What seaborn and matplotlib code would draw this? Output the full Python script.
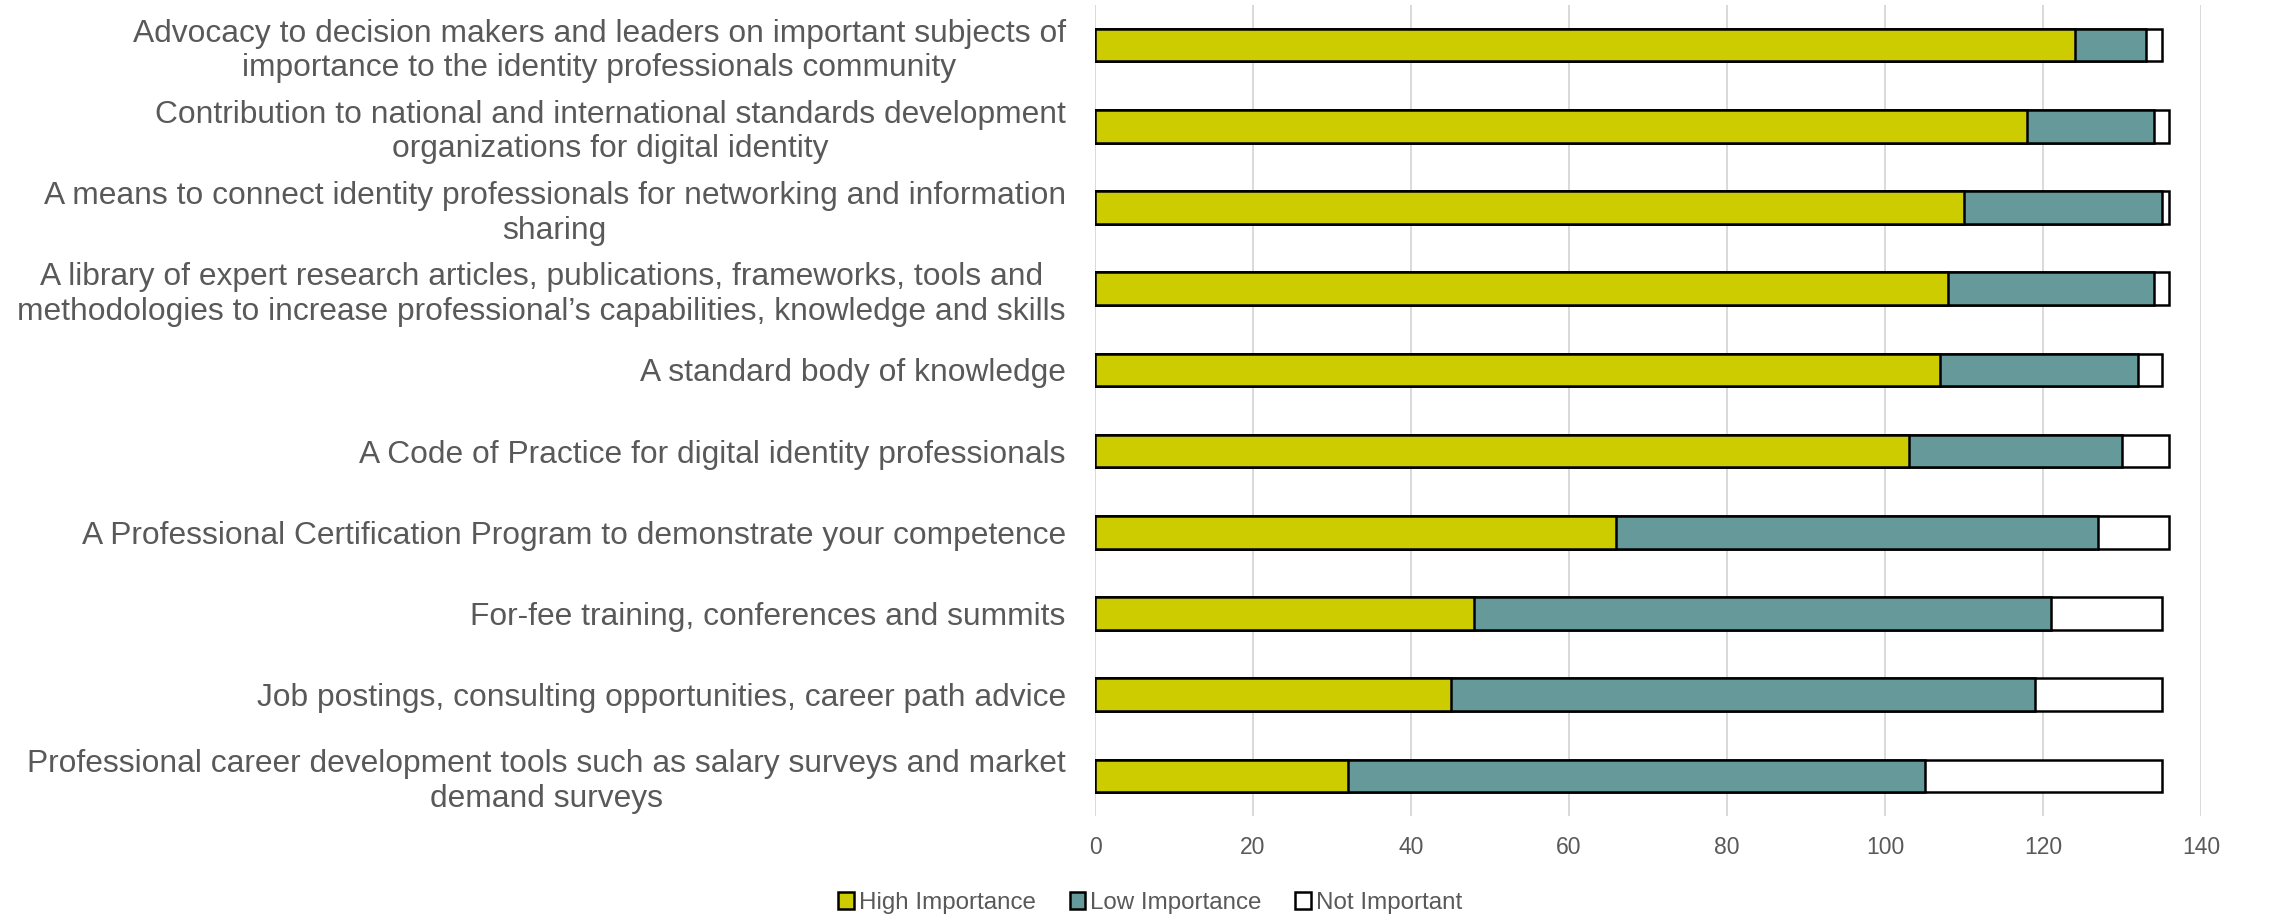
import matplotlib
matplotlib.use("Agg")
import matplotlib.pyplot as plt
from matplotlib.patches import Patch
import numpy as np
import pandas as pd
import seaborn as sns

categories = [
    "Advocacy to decision makers and leaders on important subjects of\nimportance to the identity professionals community",
    "Contribution to national and international standards development\norganizations for digital identity",
    "A means to connect identity professionals for networking and information\nsharing",
    "A library of expert research articles, publications, frameworks, tools and\nmethodologies to increase professional\u2019s capabilities, knowledge and skills",
    "A standard body of knowledge",
    "A Code of Practice for digital identity professionals",
    "A Professional Certification Program to demonstrate your competence",
    "For-fee training, conferences and summits",
    "Job postings, consulting opportunities, career path advice",
    "Professional career development tools such as salary surveys and market\ndemand surveys",
]
high_importance = [124, 118, 110, 108, 107, 103, 66, 48, 45, 32]
low_importance = [9, 16, 25, 26, 25, 27, 61, 73, 74, 73]
not_important = [2, 2, 1, 2, 3, 6, 9, 14, 16, 30]

series_names = ["High Importance", "Low Importance", "Not Important"]
series_colors = ["#CCCC00", "#669999", "#FFFFFF"]
text_color = "#595959"

df = pd.DataFrame({
    "category": categories,
    "high": high_importance,
    "low": low_importance,
    "not": not_important,
})
df["high_low"] = df["high"] + df["low"]
df["total"] = df["high_low"] + df["not"]

sns.set_theme(style="white")
plt.rcParams["font.family"] = ["Liberation Sans", "DejaVu Sans"]

fig = plt.figure(figsize=(22.87, 9.14), dpi=100)
ax = fig.add_axes([0.4788, 0.1067, 0.9624 - 0.4788, 0.995 - 0.1067])

# Stack by drawing cumulative totals from the outermost segment inward
for col, color in zip(["total", "high_low", "high"], series_colors[::-1]):
    sns.barplot(data=df, x=col, y="category", orient="h", order=categories,
                color=color, edgecolor="black", linewidth=1.8, width=0.4,
                saturation=1, ax=ax, zorder=3)

ax.set_xlim(0, 140)
ax.set_xticks(np.arange(0, 141, 20))
ax.set_xlabel("")
ax.set_ylabel("")
ax.grid(axis="x", color="#D9D9D9", linewidth=1.4, zorder=0)
ax.grid(axis="y", visible=False)
ax.set_axisbelow(True)
for s in ax.spines.values():
    s.set_visible(False)

ax.tick_params(axis="x", length=0, pad=14, labelsize=16.5, labelcolor=text_color)
ax.tick_params(axis="y", length=0, pad=21, labelsize=22.9, labelcolor=text_color)
for lbl in ax.get_yticklabels():
    lbl.set_multialignment("center")
    lbl.set_linespacing(1.2)

handles = [Patch(facecolor=c, edgecolor="black", linewidth=1.8, label=n)
           for n, c in zip(series_names, series_colors)]
fig.legend(handles=handles, loc="center", bbox_to_anchor=(0.503, 1 - 903 / 914),
           ncol=3, frameon=False, fontsize=17.4, labelcolor=text_color,
           handlelength=0.65, handleheight=0.65, handletextpad=0.2, columnspacing=1.4)

fig.savefig("out.png", dpi=100)
